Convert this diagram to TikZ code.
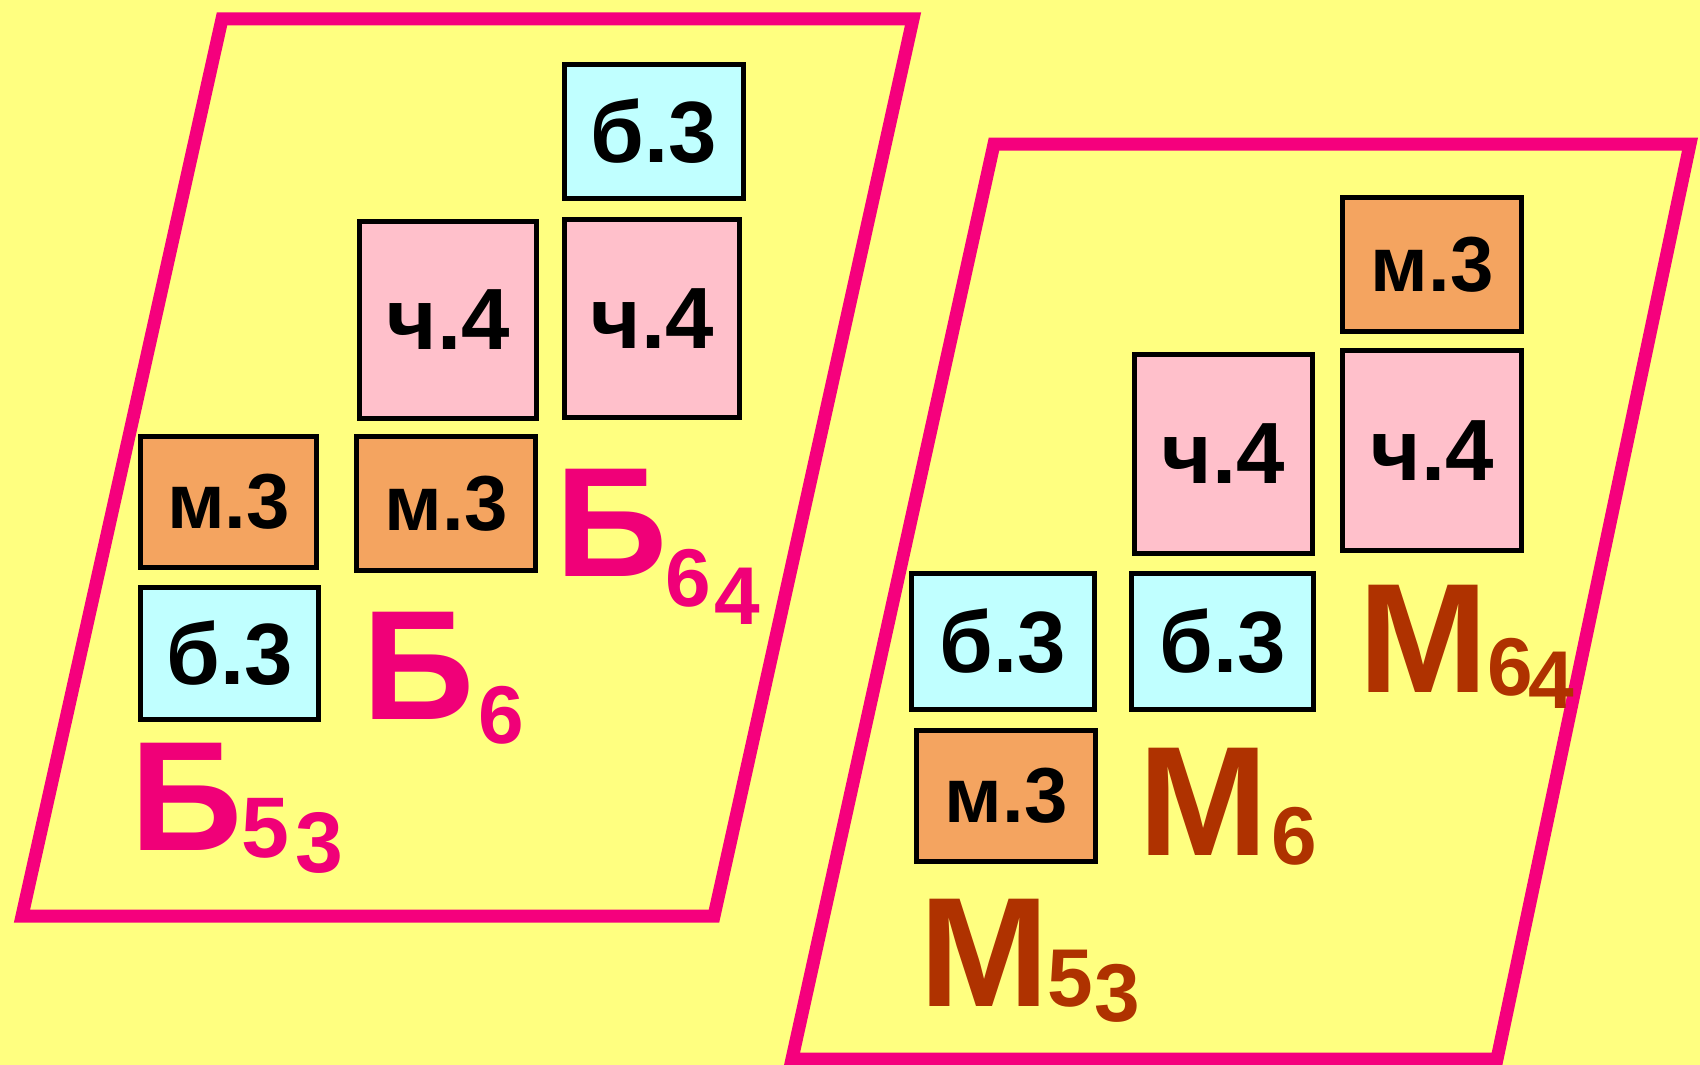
\documentclass[tikz,border=0pt]{standalone}
\usepackage{fontspec}
\setmainfont{Liberation Sans}
\definecolor{bg}{RGB}{255,255,128}
\definecolor{framecol}{RGB}{245,0,125}
\definecolor{blabel}{RGB}{240,0,120}
\definecolor{mlabel}{RGB}{175,50,0}
\definecolor{cyanbox}{RGB}{192,255,255}
\definecolor{pinkbox}{RGB}{255,192,203}
\definecolor{orangebox}{RGB}{244,164,96}
\begin{document}
\begin{tikzpicture}[x=1pt,y=-1pt,
  sz/.style 2 args={minimum width=#1pt, minimum height=#2pt},
  cell/.style={draw=black, line width=5.5pt, inner sep=0pt, text=black,
    font=\bfseries\fontsize{87}{87}\selectfont},
  bcell/.style={cell, fill=cyanbox},
  ccell/.style={cell, fill=pinkbox},
  mcell/.style={cell, fill=orangebox, font=\bfseries\fontsize{78}{78}\selectfont},
  big/.style={anchor=base, inner sep=0pt, font=\bfseries\fontsize{156}{156}\selectfont},
  sub/.style={anchor=base, inner sep=0pt, font=\bfseries\fontsize{82}{82}\selectfont},
  bsub/.style={anchor=base, inner sep=0pt, font=\bfseries\fontsize{86}{86}\selectfont},
  frameline/.style={draw=framecol, line width=13pt, line join=miter}]
\fill[bg] (0,0) rectangle (1700,1065);
\useasboundingbox (0,0) rectangle (1700,1065);

% frames
\draw[frameline] (222,19) -- (913,19) -- (714,916) -- (22,916) -- cycle;
\draw[frameline] (994,144) -- (1690,144) -- (1497,1059) -- (792,1059) -- cycle;

% left group boxes
\node[bcell, sz={179}{134}] (lb64) at (654,131.5) {б.3};
\node[ccell, sz={177}{197}] (lc6)  at (448,320) {ч.4};
\node[ccell, sz={175}{198}] (lc64) at (652,318.5) {ч.4};
\node[mcell, sz={176}{131}] (lm53) at (228.5,502) {м.3};
\node[mcell, sz={179}{134}] (lm6)  at (446,503.5) {м.3};
\node[bcell, sz={178}{132}] (lb53) at (229.5,653.5) {б.3};

% right group boxes
\node[mcell, sz={179}{134}] (rm64) at (1432,264.5) {м.3};
\node[ccell, sz={178}{199}] (rc6)  at (1223.5,454) {ч.4};
\node[ccell, sz={179}{200}] (rc64) at (1432,450.5) {ч.4};
\node[bcell, sz={183}{136}] (rb53) at (1003,641.5) {б.3};
\node[bcell, sz={182}{136}] (rb6)  at (1222.5,641.5) {б.3};
\node[mcell, sz={179}{131}] (rm53) at (1006,796) {м.3};

% left labels
\node[big, text=blabel] (B64) at (611.5,576) {Б};
\node[sub, text=blabel] (B64a) at (688,606) {6};
\node[sub, text=blabel] (B64b) at (737,624) {4};
\node[big, text=blabel] (B6) at (418.5,719) {Б};
\node[sub, text=blabel] (B6a) at (501,743) {6};
\node[big, text=blabel] (B53) at (187,850) {Б};
\node[bsub, text=blabel] (B53a) at (265,857) {5};
\node[bsub, text=blabel] (B53b) at (319,872) {3};

% right labels
\node[big, text=mlabel] (M64) at (1423,692) {М};
\node[sub, text=mlabel] (M64a) at (1510,695) {6};
\node[sub, text=mlabel] (M64b) at (1551,708) {4};
\node[big, text=mlabel] (M6) at (1203,855) {М};
\node[sub, text=mlabel] (M6a) at (1294,864) {6};
\node[big, text=mlabel] (M53) at (984,1006) {М};
\node[sub, text=mlabel] (M53a) at (1070,1006) {5};
\node[sub, text=mlabel] (M53b) at (1117,1021) {3};
\end{tikzpicture}
\end{document}
